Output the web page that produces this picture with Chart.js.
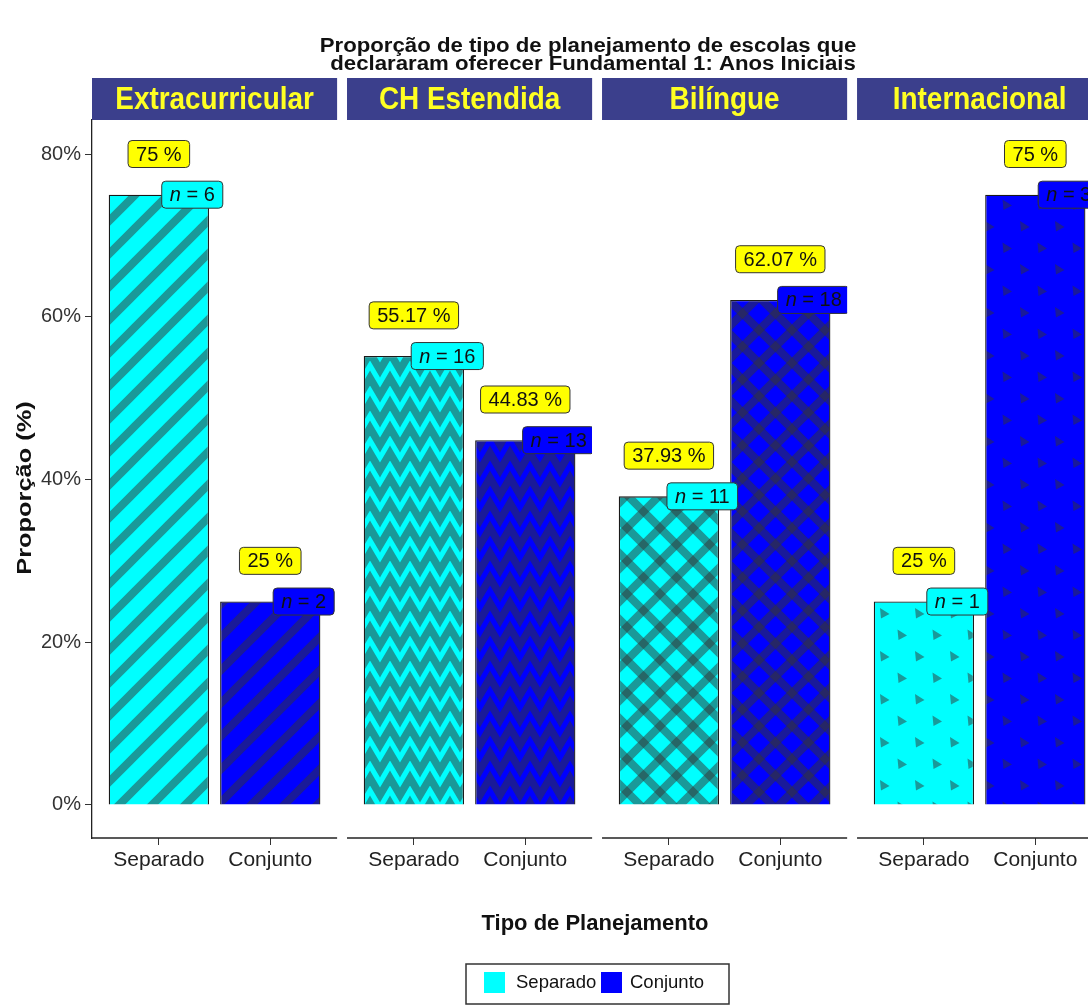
<!DOCTYPE html>
<html>
<head>
<meta charset="utf-8">
<title>Tipo de planejamento</title>
<script src="https://cdn.jsdelivr.net/npm/chart.js@4.4.1/dist/chart.umd.min.js"></script>
<style>
  html, body { margin: 0; padding: 0; background: #fff; }
  #wrap { position: relative; width: 1088px; height: 1005px; overflow: hidden; }
</style>
</head>
<body>
<div id="wrap"><canvas id="chart" width="1088" height="1005"></canvas></div>
<script>
// facetas e categorias
const panels = ["Extracurricular", "CH Estendida", "Bilíngue", "Internacional"]
const tipos = ["Separado", "Conjunto"]

// proporções (%) e contagens por faceta
const separadoPct = [75, 55.17, 37.93, 25]
const conjuntoPct = [25, 44.83, 62.07, 75]
const separadoN = [6, 16, 11, 1]
const conjuntoN = [2, 13, 18, 3]

const yTicks = [0, 20, 40, 60, 80]

// geometria das facetas em unidades do eixo x
const PANEL_SPAN = 2.2
const PANEL_STEP = 2.289
const X_MAX = 8.94
const pos = (p, i) => p * PANEL_STEP + 0.6 + i

const CYAN = "#00FFFF"
const BLUE = "#0000FF"
const INK = "rgba(51,51,51,0.5)"
const FONT = "'Liberation Sans', Arial, Helvetica, sans-serif"
const patternKinds = ["stripe", "zigzag", "crosshatch", "triangle"]

function makePattern(kind, base) {
  const c = document.createElement("canvas")
  const g = c.getContext("2d")
  const T = 33
  if (kind === "stripe" || kind === "crosshatch") {
    c.width = T; c.height = T
  } else if (kind === "zigzag") {
    c.width = 20; c.height = 25
  } else {
    c.width = 35; c.height = 43
  }
  g.fillStyle = base
  g.fillRect(0, 0, c.width, c.height)
  g.strokeStyle = INK
  g.fillStyle = INK

  if (kind === "stripe" || kind === "crosshatch") {
    g.lineWidth = 8
    g.beginPath()
    for (let k = -1; k <= 1; k++) {
      g.moveTo(k * T - 5, T + 5)
      g.lineTo(k * T + T + 5, -5)
    }
    g.stroke()
    if (kind === "crosshatch") {
      g.beginPath()
      for (let k = -1; k <= 1; k++) {
        g.moveTo(k * T - 5, -5)
        g.lineTo(k * T + T + 5, T + 5)
      }
      g.stroke()
    }
  } else if (kind === "zigzag") {
    g.lineWidth = 7.5
    g.lineJoin = "miter"
    g.beginPath()
    for (const yo of [-25, 0, 25]) {
      g.moveTo(-10, yo + 3)
      g.lineTo(0, yo + 20)
      g.lineTo(10, yo + 3)
      g.lineTo(20, yo + 20)
      g.lineTo(30, yo + 3)
    }
    g.stroke()
  } else {
    const tri = (x, y) => {
      g.moveTo(x - 4, y - 5)
      g.lineTo(x + 5.5, y + 1)
      g.lineTo(x - 3, y + 5.5)
      g.closePath()
    }
    g.beginPath()
    tri(9, 11)
    tri(26.5, 32.5)
    tri(-8.5, 32.5)
    g.fill()
  }
  return g.createPattern(c, "repeat")
}

function roundBox(ctx, x, y, w, h, r) {
  ctx.beginPath()
  ctx.moveTo(x + r, y)
  ctx.lineTo(x + w - r, y)
  ctx.quadraticCurveTo(x + w, y, x + w, y + r)
  ctx.lineTo(x + w, y + h - r)
  ctx.quadraticCurveTo(x + w, y + h, x + w - r, y + h)
  ctx.lineTo(x + r, y + h)
  ctx.quadraticCurveTo(x, y + h, x, y + h - r)
  ctx.lineTo(x, y + r)
  ctx.quadraticCurveTo(x, y, x + r, y)
  ctx.closePath()
}

// rótulo com caixa arredondada; parts = [[texto, itálico], ...]
function drawLabel(ctx, parts, cx, cy, fill) {
  const size = 20
  let w = 0
  const widths = parts.map(([t, it]) => {
    ctx.font = `${it ? "italic " : ""}${size}px ${FONT}`
    const m = ctx.measureText(t).width
    w += m
    return m
  })
  const padX = 8, h = 27
  const bx = cx - w / 2 - padX, by = cy - h / 2
  roundBox(ctx, bx, by, w + padX * 2, h, 4)
  ctx.fillStyle = fill
  ctx.fill()
  ctx.lineWidth = 1
  ctx.strokeStyle = "#333"
  ctx.stroke()
  ctx.fillStyle = "#111"
  ctx.textBaseline = "middle"
  ctx.textAlign = "left"
  let tx = cx - w / 2
  parts.forEach(([t, it], k) => {
    ctx.font = `${it ? "italic " : ""}${size}px ${FONT}`
    ctx.fillText(t, tx, cy + 1)
    tx += widths[k]
  })
}

// texto com escala horizontal própria
function scaledText(ctx, text, x, y, sx, sy) {
  ctx.save()
  ctx.translate(x, y)
  ctx.scale(sx, sy)
  ctx.fillText(text, 0, 0)
  ctx.restore()
}

const facetPlugin = {
  id: "facets",
  afterDatasetsDraw(chart) {
    const { ctx, chartArea, scales: { x, y } } = chart
    ctx.save()

    panels.forEach((name, p) => {
      const left = x.getPixelForValue(p * PANEL_STEP)
      const right = x.getPixelForValue(p * PANEL_STEP + PANEL_SPAN)

      // faixa do título da faceta
      ctx.fillStyle = "#3B3F8C"
      ctx.fillRect(left, 78, right - left, 42)
      ctx.fillStyle = "#FFFF22"
      ctx.font = `bold 31px ${FONT}`
      ctx.textAlign = "center"
      ctx.textBaseline = "middle"
      scaledText(ctx, name, (left + right) / 2, 100, 0.9, 1)

      // linha do eixo x de cada faceta
      ctx.strokeStyle = "#222"
      ctx.lineWidth = 1.3
      ctx.beginPath()
      ctx.moveTo(left, chartArea.bottom)
      ctx.lineTo(right, chartArea.bottom)
      ctx.stroke()

      const vals = [separadoPct[p], conjuntoPct[p]]
      const ns = [separadoN[p], conjuntoN[p]]
      const fills = [CYAN, BLUE]

      ctx.save()
      ctx.beginPath()
      ctx.rect(left, chartArea.top, right - left, chartArea.bottom - chartArea.top)
      ctx.clip()
      vals.forEach((v, i) => {
        const cx = x.getPixelForValue(pos(p, i))
        drawLabel(ctx, [[`${v} %`, false]], cx, y.getPixelForValue(v + 5), "#FFFF00")
        const nx = x.getPixelForValue(pos(p, i) + 0.3)
        drawLabel(ctx, [["n", true], [` = ${ns[i]}`, false]], nx, y.getPixelForValue(v), fills[i])
      })
      ctx.restore()
    })

    // título
    ctx.fillStyle = "#111"
    ctx.textAlign = "center"
    ctx.textBaseline = "alphabetic"
    ctx.font = `bold 20px ${FONT}`
    scaledText(ctx, "Proporção de tipo de planejamento de escolas que", 588, 52, 1.11, 1)
    scaledText(ctx, " declararam oferecer Fundamental 1: Anos Iniciais", 590, 70, 1.11, 1)

    // títulos dos eixos
    ctx.font = `bold 22px ${FONT}`
    ctx.textBaseline = "middle"
    ctx.fillText("Tipo de Planejamento", 595, 924)
    ctx.save()
    ctx.translate(25, 488)
    ctx.rotate(-Math.PI / 2)
    ctx.font = `bold 20px ${FONT}`
    scaledText(ctx, "Proporção (%)", 0, 0, 1.27, 1)
    ctx.restore()

    // legenda
    ctx.strokeStyle = "#333"
    ctx.lineWidth = 1.5
    ctx.strokeRect(466, 964, 263, 40)
    ctx.fillStyle = CYAN
    ctx.fillRect(484, 972, 21, 21)
    ctx.fillStyle = BLUE
    ctx.fillRect(601, 972, 21, 21)
    ctx.fillStyle = "#111"
    ctx.textAlign = "left"
    ctx.font = `18.5px ${FONT}`
    ctx.fillText(tipos[0], 516, 983)
    ctx.fillText(tipos[1], 630, 983)

    ctx.restore()
  }
}

Chart.defaults.font.family = FONT

const ctx = document.getElementById("chart")
new Chart(ctx, {
  type: "bar",
  data: {
    datasets: [
      {
        label: tipos[0],
        data: separadoPct.map((v, p) => ({ x: pos(p, 0), y: v })),
        backgroundColor: panels.map((_, p) => makePattern(patternKinds[p], CYAN)),
        borderColor: "#1a1a1a",
        borderWidth: 1.3,
      },
      {
        label: tipos[1],
        data: conjuntoPct.map((v, p) => ({ x: pos(p, 1), y: v })),
        backgroundColor: panels.map((_, p) => makePattern(patternKinds[p], BLUE)),
        borderColor: "#1a1a1a",
        borderWidth: 1.3,
      },
    ],
  },
  options: {
    responsive: false,
    animation: false,
    grouped: false,
    categoryPercentage: 1,
    barPercentage: 0.9,
    layout: { padding: { top: 120, right: 0, bottom: 127, left: 0 } },
    plugins: { legend: { display: false }, tooltip: { enabled: false } },
    scales: {
      x: {
        type: "linear",
        offset: false,
        min: 0,
        max: X_MAX,
        afterBuildTicks: (scale) => {
          scale.ticks = panels.flatMap((_, p) => [{ value: pos(p, 0) }, { value: pos(p, 1) }])
        },
        afterFit: (scale) => {
          scale.height = 40
          scale.paddingLeft = 0
          scale.paddingRight = 0
        },
        border: { display: false },
        grid: { offset: false, drawOnChartArea: false, drawTicks: true, tickLength: 7, color: "#333" },
        ticks: {
          autoSkip: false,
          maxRotation: 0,
          padding: 3,
          color: "#222",
          font: { size: 21 },
          callback: (value, index) => tipos[index % 2],
        },
      },
      y: {
        min: -4.06,
        max: 84.18,
        afterBuildTicks: (scale) => {
          scale.ticks = yTicks.map((v) => ({ value: v }))
        },
        afterFit: (scale) => {
          scale.width = 92
          scale.paddingTop = 0
          scale.paddingBottom = 0
        },
        border: { display: true, color: "#222", width: 1.3 },
        grid: { drawOnChartArea: false, drawTicks: true, tickLength: 7, color: "#333" },
        ticks: {
          padding: 4,
          color: "#333",
          font: { size: 20 },
          callback: (value) => `${value}%`,
        },
      },
    },
  },
  plugins: [facetPlugin],
})
</script>
</body>
</html>
